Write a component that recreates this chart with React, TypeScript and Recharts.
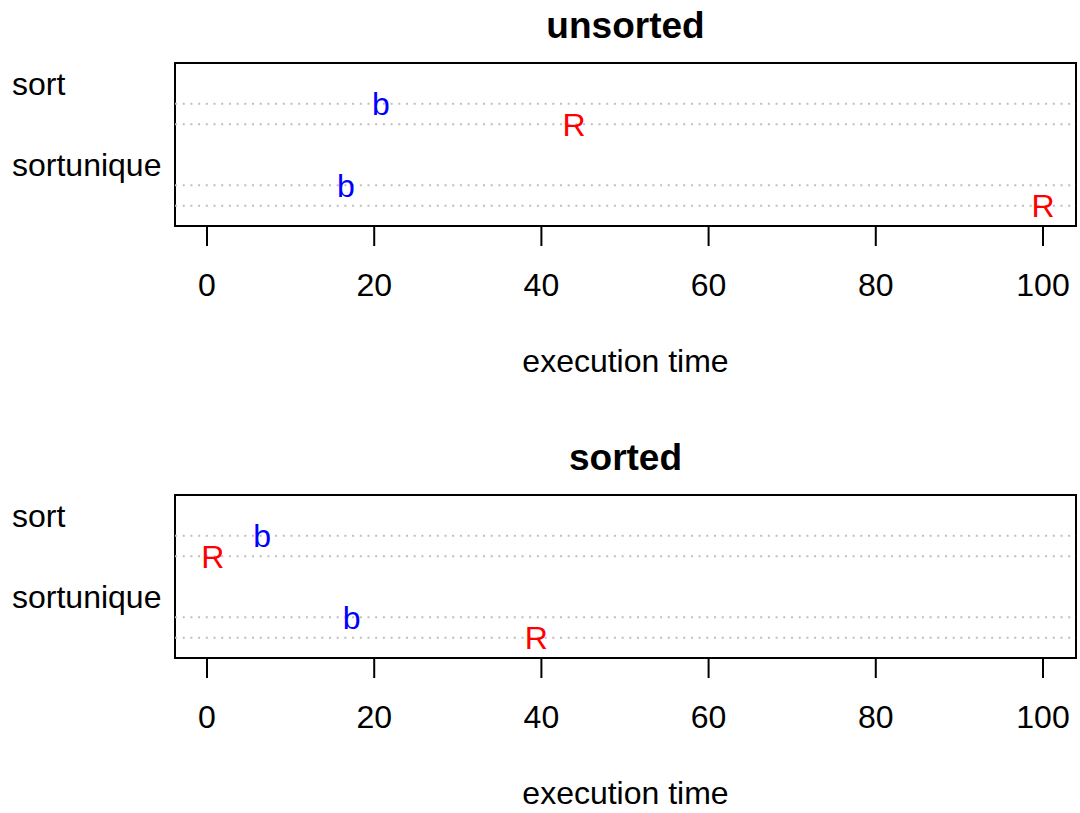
import React from 'react';
import { ScatterChart, Scatter, XAxis, YAxis, ReferenceLine, ReferenceArea, Customized } from 'recharts';

const methods = ['sort', 'sortunique'];
const xTicks = [0, 20, 40, 60, 80, 100];

// execution time per method, for the "b" and "R" implementations
const unsortedB = [20.8, 16.6];
const unsortedR = [43.9, 100];
const sortedB = [6.6, 17.3];
const sortedR = [0.7, 39.4];

const FONT = '"Liberation Sans", Arial, Helvetica, sans-serif';
const W = 1080;
const H = 381;
const FS = 32;
const MID = FS * 0.358; // shift baseline so the cap height is centred on the point

// dotchart rows: each group takes a label row, two value rows and a gap
const rowOf = (i: number, k: number) => (methods.length - 1 - i) * 4 + k;
const labelRows = methods.map((m, i) => rowOf(i, 3));
const lineRows = methods.flatMap((m, i) => [rowOf(i, 1), rowOf(i, 2)]);

const toPoints = (vals: number[], k: number) =>
  vals.map((v, i) => ({ x: v, y: rowOf(i, k), name: methods[i] }));

const glyph = (ch: string, color: string) => (props: any) => (
  <text x={props.cx} y={props.cy + MID} textAnchor="middle" fill={color} fontSize={FS} fontFamily={FONT}>
    {ch}
  </text>
);

const GroupTick = (props: any) => {
  const { y, payload } = props;
  const idx = labelRows.indexOf(payload.value);
  return (
    <text x={12} y={y + MID} textAnchor="start" fontSize={FS} fontFamily={FONT} fill="#000">
      {methods[idx]}
    </text>
  );
};

const Panel = ({ title, bVals, rVals }: { title: string; bVals: number[]; rVals: number[] }) => (
  <ScatterChart width={W} height={H} margin={{ top: 63, right: 4, left: 0, bottom: 0 }}>
    <XAxis
      type="number"
      dataKey="x"
      domain={[-3.83, 103.95]}
      allowDataOverflow
      ticks={xTicks}
      interval={0}
      height={H - 226}
      axisLine={false}
      tickSize={20}
      tickLine={{ stroke: '#000', strokeWidth: 2 }}
      tick={(p: any) => (
        <text x={p.x} y={285 + MID} textAnchor="middle" fontSize={FS} fontFamily={FONT} fill="#000">
          {p.payload.value}
        </text>
      )}
    />
    <YAxis
      type="number"
      dataKey="y"
      domain={[0, 8]}
      ticks={labelRows}
      interval={0}
      width={175}
      axisLine={false}
      tickLine={false}
      tick={<GroupTick />}
    />
    {lineRows.map((r) => (
      <ReferenceLine key={r} y={r} stroke="#bebebe" strokeWidth={2} strokeDasharray="2 5.7" />
    ))}
    <ReferenceArea x1={-3.83} x2={103.95} y1={0} y2={8} fill="none" stroke="#000" strokeWidth={2} ifOverflow="visible" />
    <Scatter data={toPoints(bVals, 2)} shape={glyph('b', '#0000ff')} isAnimationActive={false} />
    <Scatter data={toPoints(rVals, 1)} shape={glyph('R', '#ff0000')} isAnimationActive={false} />
    <Customized
      component={() => (
        <g fontFamily={FONT}>
          <text x={625.5} y={38} textAnchor="middle" fontSize={37} fontWeight="bold" fill="#000">
            {title}
          </text>
          <text x={625.5} y={361 + MID} textAnchor="middle" fontSize={FS} fill="#000">
            execution time
          </text>
        </g>
      )}
    />
  </ScatterChart>
);

export default function App() {
  return (
    <div style={{ position: 'absolute', left: 0, top: 0, width: W, height: 813, background: '#fff' }}>
      <div style={{ position: 'absolute', left: 0, top: 0 }}>
        <Panel title="unsorted" bVals={unsortedB} rVals={unsortedR} />
      </div>
      <div style={{ position: 'absolute', left: 0, top: 432 }}>
        <Panel title="sorted" bVals={sortedB} rVals={sortedR} />
      </div>
    </div>
  );
}
